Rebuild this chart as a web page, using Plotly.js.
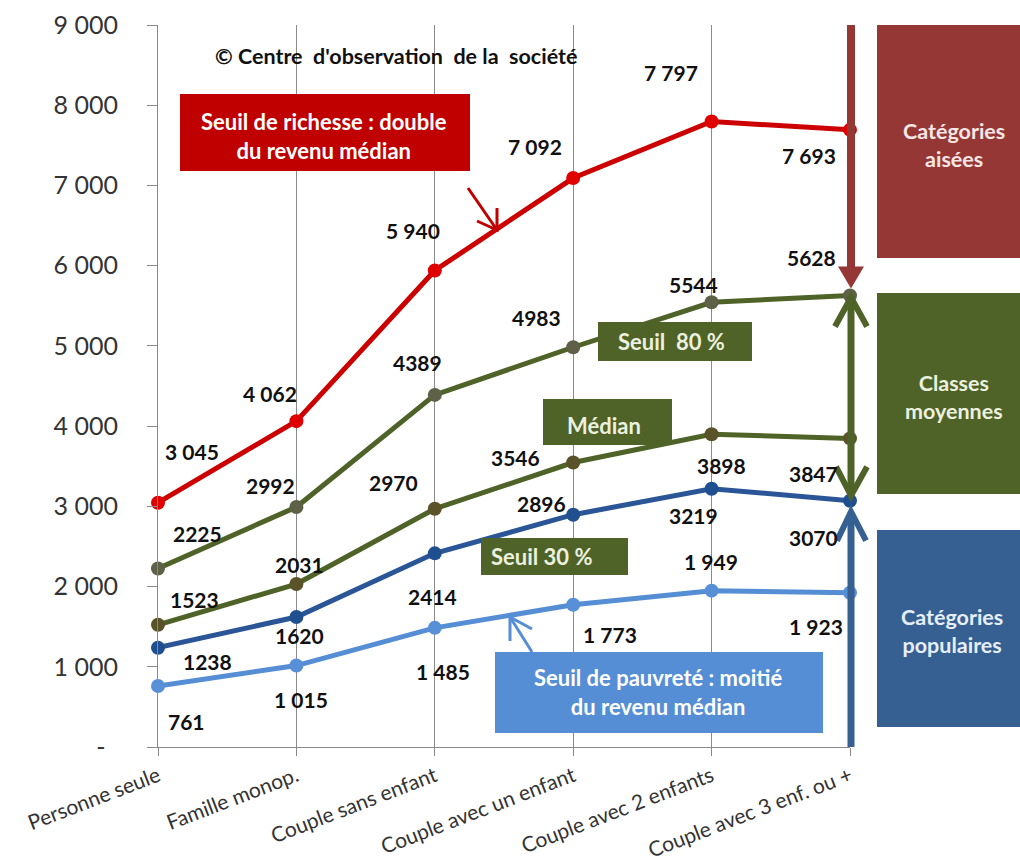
<!DOCTYPE html>
<html><head><meta charset="utf-8">
<script src="https://cdn.plot.ly/plotly-3.0.1.min.js"></script>
<style>html,body{margin:0;padding:0;background:#fff}</style>
</head><body><div id="chart" style="width:1020px;height:868px"></div>
<script>
// ---------- data ----------
const categories = ['Personne seule', 'Famille monop.', 'Couple sans enfant', 'Couple avec un enfant', 'Couple avec 2 enfants', 'Couple avec 3 enf. ou +'];
const seuilRichesse = [3045, 4062, 5940, 7092, 7797, 7693];
const seuil80 = [2225, 2992, 4389, 4983, 5544, 5628];
const seuilMedian = [1523, 2031, 2970, 3546, 3898, 3847];
const seuil30 = [1238, 1620, 2414, 2896, 3219, 3070];
const seuilPauvrete = [761, 1015, 1485, 1773, 1949, 1923];

const labelsRichesse = ['3 045', '4 062', '5 940', '7 092', '7 797', '7 693'];
const labels80 = ['2225', '2992', '4389', '4983', '5544', '5628'];
const labelsMedian = ['1523', '2031', '2970', '3546', '3898', '3847'];
const labels30 = ['1238', '1620', '2414', '2896', '3219', '3070'];
const labelsPauvrete = ['761', '1 015', '1 485', '1 773', '1 949', '1 923'];

const yTickVals = [0, 1000, 2000, 3000, 4000, 5000, 6000, 7000, 8000, 9000];
const yTickText = ['-\u2002', '1 000', '2 000', '3 000', '4 000', '5 000', '6 000', '7 000', '8 000', '9 000'];

// ---------- styling / layout helpers ----------
const ML = 158, MT = 25, PW = 692, PH = 722, YMAX = 9000;
const px = x => (x - ML) / PW;
const py = y => (MT + PH - y) / PH;
const vy = v => MT + PH - v * PH / YMAX;

const C_RED = '#cc0000', C_OLIVE = '#4f6228', C_DBLUE = '#2a5596', C_LBLUE = '#558ed5';
const C_AISE = '#953735', C_POP = '#376092';
const FONT = 'Lato, "Open Sans", sans-serif';

function lineTrace(name, y, lineColor, markerColor) {
  return {
    type: 'scatter', mode: 'lines+markers', name: name,
    x: categories, y: y, cliponaxis: false,
    line: {color: lineColor, width: 5},
    marker: {color: markerColor, size: 14},
    hoverinfo: 'skip'
  };
}

const traces = [
  lineTrace('Seuil de pauvreté', seuilPauvrete, C_LBLUE, '#5890d8'),
  lineTrace('Seuil 30 %', seuil30, C_DBLUE, '#1f4f8f'),
  lineTrace('Médian', seuilMedian, C_OLIVE, '#5a5228'),
  lineTrace('Seuil 80 %', seuil80, C_OLIVE, '#5e6048'),
  lineTrace('Seuil de richesse', seuilRichesse, C_RED, '#e00000')
];

// label offsets in screen px (dx right, dy down)
const offRichesse = [[34, -51], [-26, -28], [-22, -40], [-38, -32], [-41, -49], [-41, 26]];
const off80 = [[39, -35], [-26, -21], [-17, -32], [-37, -30], [-18, -18], [-39, -38]];
const offMedian = [[36, -25], [3, -20], [-41, -26], [-58, -5], [10, 31], [-37, 35]];
const off30 = [[49, 14], [3, 18], [-2, 43], [-32, -11], [-18, 27], [-37, 37]];
const offPauvrete = [[28, 36], [5, 34], [8, 44], [37, 30], [-1, -29], [-34, 34]];

const annotations = [];
function addLabels(vals, labels, offs) {
  vals.forEach((v, i) => {
    annotations.push({
      x: categories[i], y: v, xref: 'x', yref: 'y', text: labels[i], showarrow: false,
      xshift: offs[i][0], yshift: -offs[i][1],
      font: {family: FONT, size: 21, color: '#111', weight: 700}
    });
  });
}
addLabels(seuilRichesse, labelsRichesse, offRichesse);
addLabels(seuil80, labels80, off80);
addLabels(seuilMedian, labelsMedian, offMedian);
addLabels(seuil30, labels30, off30);
addLabels(seuilPauvrete, labelsPauvrete, offPauvrete);

function textAt(x, y, text, size, color, weight) {
  annotations.push({
    x: px(x), y: py(y), xref: 'paper', yref: 'paper', text: text, showarrow: false,
    xanchor: 'center', yanchor: 'middle', align: 'center',
    font: {family: FONT, size: size, color: color, weight: weight || 400}
  });
}

textAt(396, 56, '© Centre\u00a0 d\'observation\u00a0 de la\u00a0 société', 21.5, '#111', 700);
textAt(324, 136, 'Seuil de richesse : double<br>du revenu médian', 22, '#ffffff', 700);
textAt(671, 341, 'Seuil\u00a0 80 %', 22, '#ebf1de', 700);
textAt(604, 425, 'Médian', 22, '#ebf1de', 700);
textAt(542, 556, 'Seuil 30 %', 22, '#ebf1de', 700);
textAt(658, 692, 'Seuil de pauvreté : moitié<br>du revenu médian', 22, '#ffffff', 700);
textAt(954, 145, 'Catégories<br>aisées', 21.5, '#f6e6e6', 700);
textAt(954, 397, 'Classes<br>moyennes', 21.5, '#ebf1de', 700);
textAt(952, 631, 'Catégories<br>populaires', 21.5, '#e6eef8', 700);

const shapes = [];
function rect(x0, y0, x1, y1, color) {
  shapes.push({type: 'rect', xref: 'paper', yref: 'paper', x0: px(x0), x1: px(x1), y0: py(y0), y1: py(y1),
    fillcolor: color, line: {width: 0}, layer: 'above'});
}
function path(pts, color, width, closed) {
  let d = pts.map((p, i) => (i ? 'L' : 'M') + px(p[0]) + ',' + py(p[1])).join(' ');
  if (closed) d += ' Z';
  shapes.push({type: 'path', xref: 'paper', yref: 'paper', path: d, layer: 'above',
    fillcolor: closed ? color : 'rgba(0,0,0,0)', line: {color: color, width: closed ? 0 : width}});
}

rect(180, 94, 470, 171, '#c00000');
rect(598, 322, 752, 361, C_OLIVE);
rect(543, 399, 672, 445, C_OLIVE);
rect(481, 538, 628, 575, C_OLIVE);
rect(495, 652, 823, 733, C_LBLUE);
rect(877, 25, 1030, 258, C_AISE);
rect(877, 293, 1030, 494, C_OLIVE);
rect(877, 530, 1030, 727, C_POP);

// small pointer arrows
path([[468, 188], [497, 230]], '#c00000', 3);
path([[477, 221], [497, 230], [497, 208]], '#c00000', 3);
path([[532, 652], [510, 617]], C_LBLUE, 3);
path([[510, 641], [510, 617], [532, 629]], C_LBLUE, 3);

// right-hand arrows on the last category
const xr = 851;
const yTop80 = vy(seuil80[5]);
const yLow30 = vy(seuil30[5]);
path([[xr, MT], [xr, yTop80 - 24]], C_AISE, 8);
path([[xr - 13, yTop80 - 29], [xr + 13, yTop80 - 29], [xr, yTop80 - 7]], C_AISE, 0, true);
path([[xr, yTop80 + 3], [xr, yLow30 - 5]], C_OLIVE, 7);
path([[xr - 16, yTop80 + 31], [xr, yTop80 + 2], [xr + 16, yTop80 + 31]], C_OLIVE, 6);
path([[xr - 15, yLow30 - 34], [xr, yLow30 - 5], [xr + 16, yLow30 - 34]], C_OLIVE, 6);
path([[xr, MT + PH], [xr, yLow30 + 12]], C_POP, 7);
path([[xr - 14, yLow30 + 40], [xr, yLow30 + 11], [xr + 15, yLow30 + 40]], C_POP, 6);

const layout = {
  width: 1020, height: 868,
  margin: {l: ML, r: 1020 - ML - PW, t: MT, b: 868 - MT - PH},
  paper_bgcolor: '#ffffff', plot_bgcolor: '#ffffff',
  showlegend: false,
  xaxis: {
    type: 'category', range: [0, 5], showgrid: true, gridcolor: '#8a8a8a', gridwidth: 1,
    showline: true, linecolor: '#8a8a8a', linewidth: 1, zeroline: false,
    ticks: 'outside', ticklen: 8, tickcolor: '#8a8a8a', tickangle: -21,
    tickfont: {family: FONT, size: 21, color: '#333'}, ticklabelstandoff: 0, fixedrange: true
  },
  yaxis: {
    range: [0, YMAX], tickvals: yTickVals, ticktext: yTickText, showgrid: false,
    showline: true, linecolor: '#8a8a8a', linewidth: 1, zeroline: false,
    ticks: 'outside', ticklen: 10, tickcolor: '#8a8a8a',
    tickfont: {family: FONT, size: 25, color: '#333'}, ticklabelstandoff: 24, fixedrange: true
  },
  shapes: shapes,
  annotations: annotations
};

Plotly.newPlot('chart', traces, layout, {displayModeBar: false, staticPlot: true});
</script>
</body></html>
